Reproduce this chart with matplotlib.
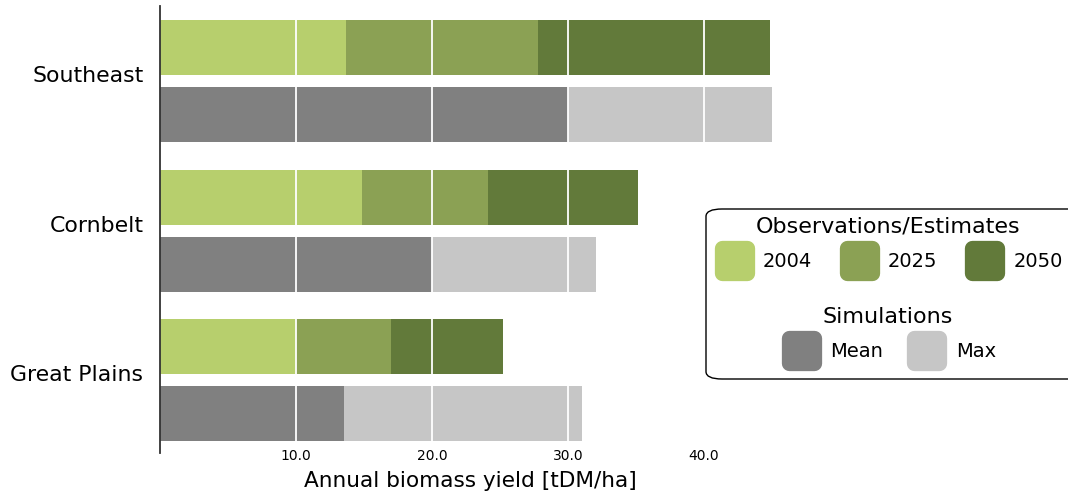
import matplotlib
matplotlib.use("Agg")
import matplotlib.pyplot as plt
from matplotlib.lines import Line2D
from matplotlib.markers import MarkerStyle
from matplotlib.patches import FancyBboxPatch

# data
regions = ["Great Plains", "Cornbelt", "Southeast"]
obs_2004 = [10.0, 14.85, 13.7]
obs_2025 = [17.0, 24.1, 27.8]
obs_2050 = [25.2, 35.15, 44.85]
sim_mean = [13.55, 20.0, 30.0]
sim_max = [31.0, 32.05, 45.0]

c2004 = "#b7cf6d"
c2025 = "#8ba154"
c2050 = "#627a3a"
cmean = "#808080"
cmax = "#c6c6c6"

fig = plt.figure(figsize=(10.68, 4.93), dpi=100)
W, H = 1068, 493
ax = fig.add_axes([160 / W, 1 - 453 / H, 620 / W, 447 / H])
ax.set_axisbelow(False)

ypos = list(range(len(regions)))
h = 0.368
off = 0.224
obs_y = [y + off for y in ypos]
sim_y = [y - off for y in ypos]

# longest bars first so the shorter ones sit on top
ax.barh(obs_y, obs_2050, height=h, color=c2050, zorder=1)
ax.barh(obs_y, obs_2025, height=h, color=c2025, zorder=1)
ax.barh(obs_y, obs_2004, height=h, color=c2004, zorder=1)
ax.barh(sim_y, sim_max, height=h, color=cmax, zorder=1)
ax.barh(sim_y, sim_mean, height=h, color=cmean, zorder=1)

ax.set_xlim(0, 620 / 13.6)
ax.set_ylim(-0.488, 2.502)
ax.set_xticks([10, 20, 30, 40])
ax.set_xticklabels(["10.0", "20.0", "30.0", "40.0"], fontsize=10)
ax.set_yticks([y + 0.045 for y in ypos])
ax.set_yticklabels(regions, fontsize=15.8)
ax.tick_params(axis="x", length=0, pad=-3)
ax.tick_params(axis="y", length=0, pad=12)
for x in [10, 20, 30, 40]:
    ax.axvline(x, color="white", lw=1.3, zorder=2)
for s in ["top", "right", "bottom"]:
    ax.spines[s].set_visible(False)
ax.spines["left"].set_color("#333333")
ax.spines["left"].set_linewidth(1.3)
ax.set_xlabel("Annual biomass yield [tDM/ha]", fontsize=15.6, labelpad=6)

# legend
def handle(c):
    return Line2D([], [], ls="none", marker=MarkerStyle("s", joinstyle="round"),
                  markersize=18, markerfacecolor=c, markeredgecolor=c,
                  markeredgewidth=11)

frame = FancyBboxPatch((706 / W, 1 - 379 / H), 380 / W, 170 / H,
                       boxstyle="round,pad=0,rounding_size=0.015",
                       transform=fig.transFigure, facecolor="white",
                       edgecolor="black", lw=1.0, zorder=5)
fig.patches.append(frame)

leg1 = fig.legend([handle(c2004), handle(c2025), handle(c2050)],
                  ["2004", "2025", "2050"], ncol=3, title="Observations/Estimates",
                  title_fontsize=16, fontsize=14, frameon=False,
                  loc="center", bbox_to_anchor=(888 / W, 1 - 244 / H),
                  handlelength=2.1, handletextpad=0.45, labelspacing=0.8,
                  columnspacing=1.35, borderpad=0)
leg2 = fig.legend([handle(cmean), handle(cmax)], ["Mean", "Max"], ncol=2,
                  title="Simulations", title_fontsize=16, fontsize=14,
                  frameon=False, loc="center",
                  bbox_to_anchor=(888 / W, 1 - 334 / H),
                  handlelength=2.1, handletextpad=0.45, labelspacing=0.8,
                  columnspacing=1.2, borderpad=0)
leg1.set_zorder(6)
leg2.set_zorder(6)

fig.savefig("out.png", dpi=100)
